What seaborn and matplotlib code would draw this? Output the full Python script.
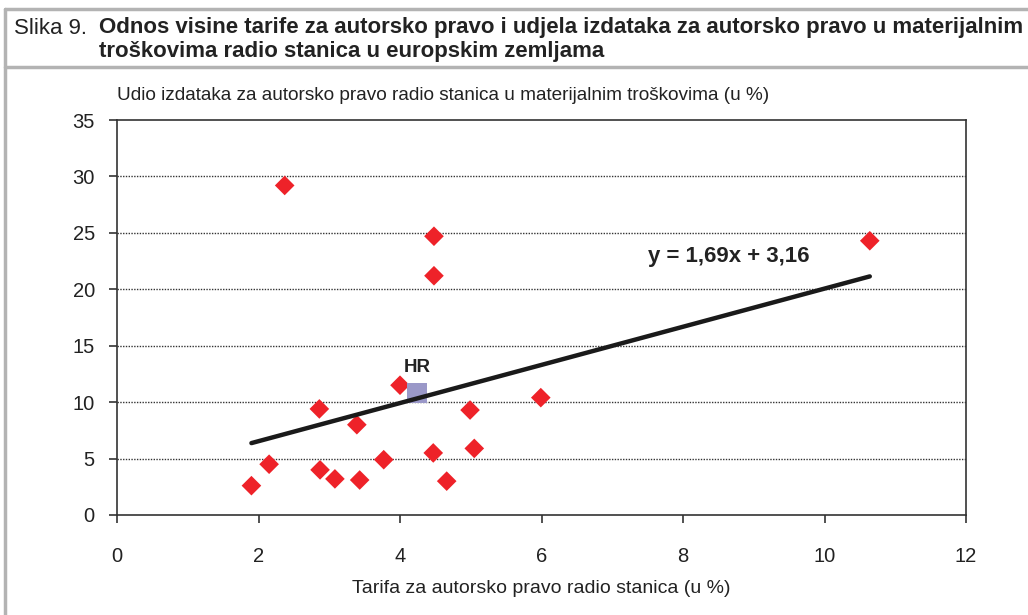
import numpy as np
import pandas as pd
import matplotlib.pyplot as plt
import seaborn as sns
from matplotlib.lines import Line2D

# Tariff (x) and share of costs (y) for European radio stations
tarifa = [1.90, 2.15, 2.37, 2.86, 2.87, 3.08, 3.39, 3.43, 3.77, 4.00,
          4.48, 4.48, 4.47, 4.66, 4.99, 5.05, 5.99, 10.64]
udio = [2.6, 4.5, 29.2, 9.4, 4.0, 3.2, 8.0, 3.1, 4.9, 11.5,
        24.7, 21.2, 5.5, 3.0, 9.3, 5.9, 10.4, 24.3]

# Croatia
hr_tarifa = [4.24]
hr_udio = [10.8]

# Trend line y = 1,69x + 3,16
slope = 1.69
intercept = 3.16

x_ticks = [0, 2, 4, 6, 8, 10, 12]
y_ticks = [0, 5, 10, 15, 20, 25, 30, 35]

sns.set_style("white")
plt.rcParams['font.family'] = ['Liberation Sans', 'DejaVu Sans']

df = pd.DataFrame({'x': tarifa, 'y': udio})
df_hr = pd.DataFrame({'x': hr_tarifa, 'y': hr_udio})
x_line = np.array([min(tarifa), max(tarifa)])
df_line = pd.DataFrame({'x': x_line, 'y': slope * x_line + intercept})

fig = plt.figure(figsize=(10.28, 6.15), dpi=100)
ax = fig.add_axes([117 / 1028, 1 - 515 / 615, (966 - 117) / 1028, (515 - 120) / 615])

sns.scatterplot(data=df, x='x', y='y', ax=ax, marker='D', s=100, color='#ee2229',
                edgecolor='none', zorder=3)
sns.scatterplot(data=df_hr, x='x', y='y', ax=ax, marker='s', s=210, color='#9a98c8',
                edgecolor='none', zorder=4)
sns.lineplot(data=df_line, x='x', y='y', ax=ax, color='#1a1a1a', linewidth=3.2, zorder=5)

ax.set_xlim(0, 12)
ax.set_ylim(0, 35)
ax.set_xticks(x_ticks)
ax.set_yticks(y_ticks)
ax.set_xticklabels([str(t) for t in x_ticks])
ax.set_yticklabels([str(t) for t in y_ticks])
ax.tick_params(axis='both', direction='out', length=6, width=1.2, color='#333333',
               labelsize=14.5, labelcolor='#222222')
ax.tick_params(axis='x', pad=17)
ax.tick_params(axis='y', pad=10)
ax.tick_params(axis='x', bottom=True)
ax.tick_params(axis='y', left=True)

for t in y_ticks[1:-1]:
    ax.axhline(t, color='#333333', linestyle=(0, (1, 1)), linewidth=1.0, zorder=1)

for s in ax.spines.values():
    s.set_visible(True)
    s.set_color('#333333')
    s.set_linewidth(1.2)

ax.set_xlabel('Tarifa za autorsko pravo radio stanica (u %)', fontsize=14, color='#222222',
              labelpad=10)
ax.set_ylabel('')

ax.text(8.65, 22.9, 'y = 1,69x + 3,16', fontsize=16, fontweight='bold', color='#222222',
        ha='center', va='center', zorder=6)
ax.text(4.24, 13.1, 'HR', fontsize=13.5, fontweight='bold', color='#222222',
        ha='center', va='center', zorder=6)

fig.text(117 / 1028, 1 - 95 / 615,
         'Udio izdataka za autorsko pravo radio stanica u materijalnim troškovima (u %)',
         fontsize=13.7, color='#222222', ha='left', va='center')

# Title block
fig.text(14 / 1028, 1 - 28 / 615, 'Slika 9.', fontsize=16, color='#222222',
         ha='left', va='center')
fig.text(99 / 1028, 1 - 28 / 615,
         'Odnos visine tarife za autorsko pravo i udjela izdataka za autorsko pravo u materijalnim',
         fontsize=16, fontweight='bold', color='#222222', ha='left', va='center')
fig.text(99 / 1028, 1 - 51 / 615, 'troškovima radio stanica u europskim zemljama',
         fontsize=16, fontweight='bold', color='#222222', ha='left', va='center')

# Frame lines
frame_color = '#b3b3b3'
fig.add_artist(Line2D([5 / 1028, 1], [1 - 9 / 615, 1 - 9 / 615], color=frame_color,
                      linewidth=2.5, transform=fig.transFigure))
fig.add_artist(Line2D([5 / 1028, 1], [1 - 67 / 615, 1 - 67 / 615], color=frame_color,
                      linewidth=2.5, transform=fig.transFigure))
fig.add_artist(Line2D([5 / 1028, 5 / 1028], [0, 1 - 9 / 615], color=frame_color,
                      linewidth=2.5, transform=fig.transFigure))

fig.savefig('out.png', dpi=100)
